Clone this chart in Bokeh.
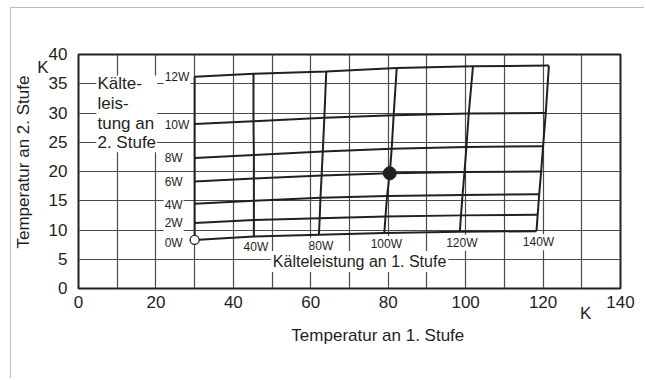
from bokeh.plotting import figure
from bokeh.models import Range1d, FixedTicker
from bokeh.core.properties import value
from bokeh.embed import file_html
from bokeh.resources import INLINE

# Kälteleistung an 1. Stufe (W) - roughly vertical iso-lines
stage1_w = [0, 40, 80, 100, 120, 140]
# Kälteleistung an 2. Stufe (W) - roughly horizontal iso-lines
stage2_w = [0, 2, 4, 6, 8, 10, 12]

# Temperatur an 1. Stufe (K) at each intersection; rows = stage2_w, cols = stage1_w
t1 = [
    [30.0, 45.3, 62.1, 79.0, 98.5, 118.3],   # 0W
    [30.0, 45.3, 62.3, 79.3, 98.8, 118.6],   # 2W
    [30.0, 45.3, 62.5, 79.7, 99.2, 119.0],   # 4W
    [30.0, 45.3, 62.8, 80.4, 99.7, 119.5],   # 6W
    [30.0, 45.3, 63.1, 80.9, 100.2, 120.0],  # 8W
    [30.0, 45.2, 63.5, 81.4, 100.8, 120.7],  # 10W
    [30.0, 45.2, 64.0, 82.2, 101.9, 121.5],  # 12W
]
# Temperatur an 2. Stufe (K) at each intersection
t2 = [
    [8.3, 8.9, 9.2, 9.5, 9.7, 9.8],        # 0W
    [11.2, 11.7, 12.0, 12.3, 12.5, 12.6],  # 2W
    [14.5, 15.0, 15.5, 15.8, 16.0, 16.1],  # 4W
    [18.3, 18.8, 19.3, 19.7, 19.9, 20.0],  # 6W
    [22.3, 22.8, 23.4, 23.9, 24.2, 24.3],  # 8W
    [28.1, 28.6, 29.2, 29.6, 29.9, 30.0],  # 10W
    [36.2, 36.7, 37.1, 37.7, 38.0, 38.1],  # 12W
]

# operating point
op_t1 = [80.4]
op_t2 = [19.7]

x_ticks = [0, 20, 40, 60, 80, 100, 120, 140]
x_grid = [0, 10, 20, 30, 40, 50, 60, 70, 80, 90, 100, 110, 120, 130, 140]
y_ticks = [0, 5, 10, 15, 20, 25, 30, 35, 40]
x_unit_pos = 131.0   # where the "K" unit sits on the x axis
y_unit_pos = 37.8    # where the "K" unit sits on the y axis

INK = "#231f20"
FONT = "Liberation Sans"
NB = "\u00a0"

p = figure(width=634, height=371, output_backend="svg", toolbar_location=None,
           x_range=Range1d(0, 140), y_range=Range1d(0, 40),
           min_border_left=67, min_border_right=25, min_border_top=46, min_border_bottom=91)
p.styles = {"margin-left": "10px", "margin-top": "7px",
            "border-left": "1px solid #bcbcbc", "border-top": "1px solid #bcbcbc"}

p.outline_line_color = INK
p.outline_line_width = 2
p.background_fill_color = "white"
p.border_fill_color = "white"

p.xaxis.ticker = FixedTicker(ticks=x_ticks + [x_unit_pos])
p.xaxis.major_label_overrides = {x_unit_pos: "\nK"}
p.yaxis.ticker = FixedTicker(ticks=y_ticks + [y_unit_pos])
p.yaxis.major_label_overrides = {y_unit_pos: "K" + NB * 4}
p.xgrid.ticker = FixedTicker(ticks=x_grid)
p.ygrid.ticker = FixedTicker(ticks=y_ticks)
for g in (p.xgrid, p.ygrid):
    g.grid_line_color = "#4a4a4a"
    g.grid_line_width = 1.2
for ax in (p.xaxis, p.yaxis):
    ax.axis_line_color = None
    ax.major_tick_line_color = None
    ax.minor_tick_line_color = None
    ax.major_label_text_font = FONT
    ax.major_label_text_font_size = "17px"
    ax.major_label_text_color = INK
    ax.axis_label_text_font = FONT
    ax.axis_label_text_font_size = "17px"
    ax.axis_label_text_font_style = "normal"
    ax.axis_label_text_color = INK
p.xaxis.major_label_text_line_height = 0.6
p.xaxis.major_label_standoff = -2
p.yaxis.major_label_standoff = 5
p.xaxis.axis_label = NB * 12 + "Temperatur an 1. Stufe"
p.yaxis.axis_label = NB * 4 + "Temperatur an 2. Stufe"
p.xaxis.axis_label_standoff = 0
p.yaxis.axis_label_standoff = 1

# white box behind the "Kälteleistung an 2. Stufe" block
p.quad(left=[4.6], right=[20.3], bottom=[23.3], top=[36.4], fill_color="white", line_color=None)

# iso-lines
rows_x = [row for row in t1]
rows_y = [row for row in t2]
cols_x = [[t1[i][j] for i in range(len(stage2_w))] for j in range(len(stage1_w))]
cols_y = [[t2[i][j] for i in range(len(stage2_w))] for j in range(len(stage1_w))]
p.multi_line(rows_x, rows_y, line_color=INK, line_width=2)
p.multi_line(cols_x, cols_y, line_color=INK, line_width=2)

# 2nd stage labels at left end of each row
row_labels = [f"{w}W" for w in stage2_w]
p.text(x=[r[0] for r in t1], y=[r[0] for r in t2], text=row_labels,
       x_offset=-31, y_offset=[3, 0, 1, 1, 0, 1, 0], text_align="left", text_baseline="middle",
       text_font=value(FONT), text_font_size="12px", text_color=INK,
       background_fill_color="white", padding=1)

# 1st stage labels below the bottom end of each column (skip 0W)
col_labels = [f"{w}W" for w in stage1_w[1:]]
p.text(x=[t1[0][j] for j in range(1, len(stage1_w))], y=[t2[0][j] for j in range(1, len(stage1_w))],
       text=col_labels, x_offset=2, y_offset=11, text_align="center", text_baseline="middle",
       text_font=value(FONT), text_font_size="12px", text_color=INK,
       background_fill_color="white", padding=1)

# markers
p.scatter(x=[t1[0][0]], y=[t2[0][0]], size=9, fill_color="white", line_color=INK, line_width=1.3)
p.scatter(x=op_t1, y=op_t2, size=13, fill_color=INK, line_color=INK)

# block text "Kälteleistung an 2. Stufe"
block_lines = ["Kälte-", "leis-", "tung an", "2. Stufe"]
p.text(x=[4.9] * 4, y=[35.0, 31.55, 28.15, 25.0], text=block_lines,
       text_align="left", text_baseline="middle",
       text_font=value(FONT), text_font_size="17px", text_color=INK)

# "Kälteleistung an 1. Stufe"
p.text(x=[72.6], y=[4.6], text=["Kälteleistung an 1. Stufe"],
       text_align="center", text_baseline="middle",
       text_font=value(FONT), text_font_size="16px", text_color=INK,
       background_fill_color="white", padding=2)

open("out.html", "w").write(file_html(p, INLINE))
